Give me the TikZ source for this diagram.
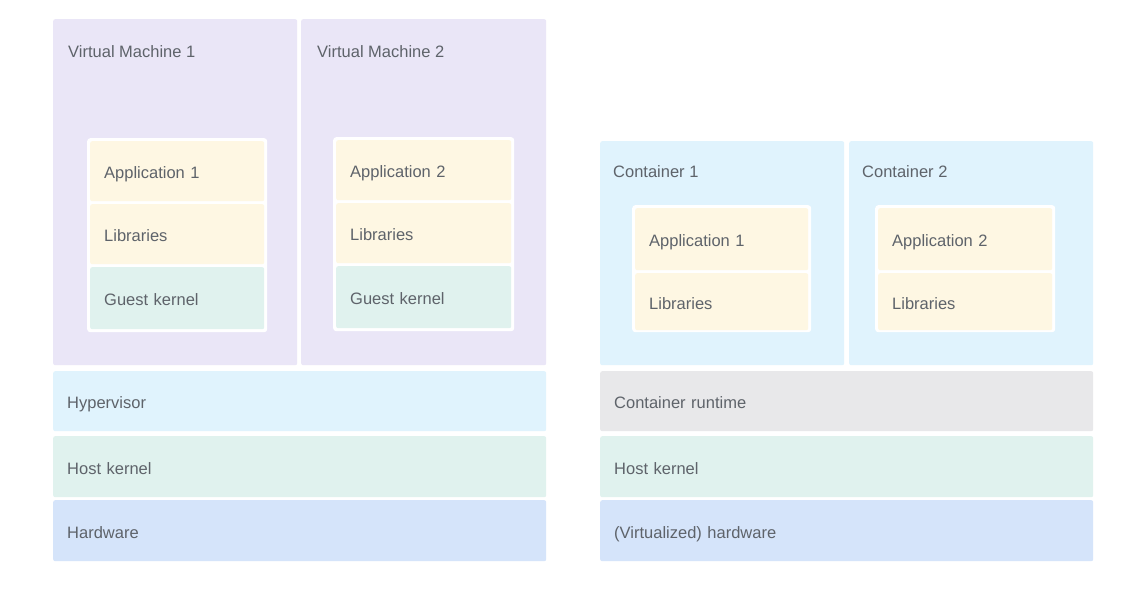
\documentclass[tikz,border=0pt]{standalone}
\usepackage{fontspec}
\setmainfont{Liberation Sans}
\definecolor{txt}{HTML}{5E636A}
\definecolor{vmpurple}{HTML}{EAE6F7}
\definecolor{appyellow}{HTML}{FEF7E3}
\definecolor{kgreen}{HTML}{E0F2EE}
\definecolor{lblue}{HTML}{E0F3FD}
\definecolor{hwblue}{HTML}{D5E4FA}
\definecolor{rtgrey}{HTML}{E8E8EA}
\tikzset{
  blk/.style={rectangle, rounded corners=2pt, draw=none, anchor=north west, inner ysep=0pt, inner xsep=#1, align=left, text=txt, text height=15.5pt, text depth=0pt, font=\fontsize{16.5}{18}\selectfont},
  blk/.default=14pt,
  frame/.style={rectangle, rounded corners=3pt, fill=white, draw=none, anchor=north west, inner sep=0pt},
  title/.style={anchor=west, inner sep=0pt, text=txt, font=\fontsize{16.5}{18}\selectfont},
}
\begin{document}
\begin{tikzpicture}[x=1pt,y=-1pt]
\useasboundingbox[fill=white] (0,0) rectangle (1121,608);

% ---------------- Left: virtual machines ----------------
\node[blk, fill=vmpurple, minimum width=244pt, minimum height=346pt] (vm1) at (53,19) {};
\node[blk, fill=vmpurple, minimum width=245pt, minimum height=346pt] (vm2) at (301,19) {};
\node[title] (vm1t) at (68,52) {Virtual Machine 1};
\node[title] (vm2t) at (317,52) {Virtual Machine 2};

\node[frame, minimum width=180pt, minimum height=194pt] (vm1f) at (87,138) {};
\node[blk, fill=appyellow, text width=146pt, minimum height=60pt] (app1) at (90,141) {Application 1};
\node[blk, fill=appyellow, text width=146pt, minimum height=60pt] (lib1) at (90,204) {Libraries};
\node[blk, fill=kgreen, text width=146pt, minimum height=62pt] (gk1) at (90,267) {Guest kernel};

\node[frame, minimum width=181pt, minimum height=194pt] (vm2f) at (333,137) {};
\node[blk, fill=appyellow, text width=147pt, minimum height=60pt] (app2) at (336,140) {Application 2};
\node[blk, fill=appyellow, text width=147pt, minimum height=60pt] (lib2) at (336,203) {Libraries};
\node[blk, fill=kgreen, text width=147pt, minimum height=62pt] (gk2) at (336,266) {Guest kernel};

\node[blk, fill=lblue, text width=465pt, minimum height=60pt] (hyp) at (53,371) {Hypervisor};
\node[blk, fill=kgreen, text width=465pt, minimum height=61pt] (hk1) at (53,436) {Host kernel};
\node[blk, fill=hwblue, text width=465pt, minimum height=61pt] (hw1) at (53,500) {Hardware};

% ---------------- Right: containers ----------------
\node[blk, fill=lblue, minimum width=244pt, minimum height=224pt] (c1) at (600,141) {};
\node[blk, fill=lblue, minimum width=244pt, minimum height=224pt] (c2) at (849,141) {};
\node[title] (c1t) at (613,172) {Container 1};
\node[title] (c2t) at (862,172) {Container 2};

\node[frame, minimum width=179pt, minimum height=127pt] (c1f) at (632,205) {};
\node[blk, fill=appyellow, text width=145pt, minimum height=62pt] (capp1) at (635,208) {Application 1};
\node[blk, fill=appyellow, text width=145pt, minimum height=57pt] (clib1) at (635,273) {Libraries};

\node[frame, minimum width=180pt, minimum height=127pt] (c2f) at (875,205) {};
\node[blk, fill=appyellow, text width=146pt, minimum height=62pt] (capp2) at (878,208) {Application 2};
\node[blk, fill=appyellow, text width=146pt, minimum height=57pt] (clib2) at (878,273) {Libraries};

\node[blk, fill=rtgrey, text width=465pt, minimum height=60pt] (rt) at (600,371) {Container runtime};
\node[blk, fill=kgreen, text width=465pt, minimum height=61pt] (hk2) at (600,436) {Host kernel};
\node[blk, fill=hwblue, text width=465pt, minimum height=61pt] (hw2) at (600,500) {(Virtualized) hardware};
\end{tikzpicture}
\end{document}
